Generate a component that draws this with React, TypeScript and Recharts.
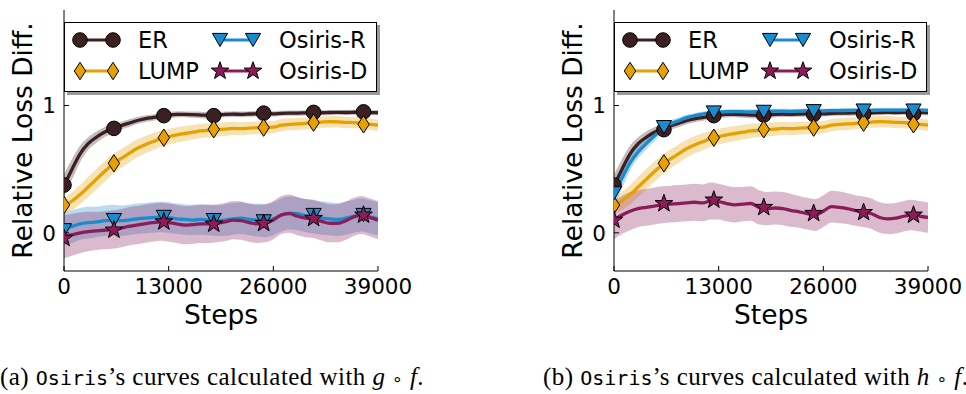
import React from 'react';
import { ComposedChart, Line, Area, XAxis, YAxis, Legend } from 'recharts';

// training steps (x) shared by every curve
const steps = [
  0, 1000, 2000, 3000, 4000, 5000, 6000, 7000, 8000, 9000,
  10000, 11000, 12000, 13000, 14000, 15000, 16000, 17000, 18000, 19000,
  20000, 21000, 22000, 23000, 24000, 25000, 26000, 27000, 28000, 29000,
  30000, 31000, 32000, 33000, 34000, 35000, 36000, 37000, 38000, 39000,
];
const xTicks = [0, 13000, 26000, 39000];
const yTicks = [0, 1];

// ER and LUMP are the same in both panels
const erVals = [
  0.37, 0.5, 0.62, 0.7, 0.75, 0.79, 0.815, 0.84, 0.86, 0.88,
  0.895, 0.905, 0.915, 0.925, 0.93, 0.93, 0.928, 0.925, 0.922, 0.925,
  0.93, 0.932, 0.93, 0.933, 0.935, 0.936, 0.934, 0.938, 0.94, 0.94,
  0.942, 0.944, 0.943, 0.945, 0.946, 0.945, 0.947, 0.948, 0.945, 0.943,
];
const erSpread = [
  0.09, 0.08, 0.065, 0.05, 0.045, 0.04, 0.035, 0.03, 0.03, 0.028,
  0.026, 0.025, 0.025, 0.024, 0.024, 0.023, 0.024, 0.025, 0.024, 0.023,
  0.022, 0.023, 0.022, 0.022, 0.021, 0.022, 0.021, 0.02, 0.021, 0.02,
  0.02, 0.021, 0.02, 0.02, 0.019, 0.02, 0.02, 0.019, 0.02, 0.02,
];
const lumpVals = [
  0.21, 0.25, 0.3, 0.36, 0.42, 0.48, 0.535, 0.58, 0.62, 0.66,
  0.69, 0.715, 0.74, 0.755, 0.77, 0.78, 0.79, 0.8, 0.805, 0.81,
  0.815, 0.82, 0.818, 0.822, 0.825, 0.828, 0.83, 0.845, 0.852, 0.855,
  0.86, 0.866, 0.87, 0.873, 0.872, 0.868, 0.865, 0.86, 0.852, 0.846,
];
const lumpSpread = [
  0.06, 0.07, 0.075, 0.08, 0.08, 0.08, 0.078, 0.075, 0.072, 0.07,
  0.068, 0.066, 0.064, 0.062, 0.06, 0.058, 0.057, 0.056, 0.055, 0.054,
  0.053, 0.052, 0.051, 0.05, 0.05, 0.049, 0.048, 0.048, 0.047, 0.047,
  0.046, 0.046, 0.045, 0.045, 0.045, 0.044, 0.044, 0.044, 0.044, 0.044,
];

// (a) g∘f
const osirisRA = [
  0.03, 0.05, 0.07, 0.08, 0.085, 0.095, 0.1, 0.095, 0.1, 0.11,
  0.115, 0.12, 0.125, 0.12, 0.11, 0.105, 0.1, 0.105, 0.1, 0.095,
  0.1, 0.11, 0.115, 0.105, 0.1, 0.095, 0.11, 0.14, 0.155, 0.15,
  0.135, 0.125, 0.115, 0.11, 0.105, 0.115, 0.13, 0.14, 0.125, 0.11,
];
const osirisRASpread = [
  0.13, 0.13, 0.125, 0.125, 0.12, 0.12, 0.12, 0.12, 0.12, 0.12,
  0.12, 0.12, 0.12, 0.12, 0.12, 0.12, 0.12, 0.12, 0.12, 0.12,
  0.125, 0.125, 0.125, 0.125, 0.13, 0.13, 0.13, 0.13, 0.13, 0.13,
  0.13, 0.13, 0.13, 0.13, 0.13, 0.13, 0.13, 0.13, 0.13, 0.13,
];
const osirisDA = [
  -0.03, -0.015, 0.0, 0.01, 0.015, 0.02, 0.025, 0.035, 0.05, 0.06,
  0.07, 0.08, 0.087, 0.08, 0.07, 0.06, 0.065, 0.07, 0.07, 0.075,
  0.085, 0.1, 0.095, 0.08, 0.07, 0.075, 0.1, 0.14, 0.15, 0.13,
  0.115, 0.11, 0.09, 0.075, 0.075, 0.095, 0.125, 0.14, 0.12, 0.1,
];
const osirisDASpread = [
  0.17, 0.165, 0.16, 0.155, 0.15, 0.15, 0.15, 0.15, 0.15, 0.15,
  0.15, 0.15, 0.15, 0.15, 0.15, 0.15, 0.15, 0.15, 0.15, 0.15,
  0.15, 0.15, 0.15, 0.15, 0.15, 0.15, 0.15, 0.15, 0.15, 0.15,
  0.15, 0.15, 0.15, 0.15, 0.15, 0.15, 0.15, 0.15, 0.15, 0.15,
];

// (b) h∘f
const osirisRB = [
  0.3, 0.43, 0.55, 0.635, 0.7, 0.76, 0.82, 0.855, 0.88, 0.905,
  0.92, 0.932, 0.942, 0.948, 0.951, 0.952, 0.951, 0.95, 0.952, 0.954,
  0.955, 0.955, 0.954, 0.956, 0.957, 0.958, 0.958, 0.96, 0.96, 0.961,
  0.962, 0.962, 0.962, 0.963, 0.963, 0.964, 0.963, 0.964, 0.963, 0.962,
];
const osirisRBSpread = [
  0.1, 0.08, 0.06, 0.05, 0.045, 0.04, 0.035, 0.03, 0.025, 0.022,
  0.02, 0.02, 0.02, 0.02, 0.02, 0.02, 0.02, 0.02, 0.02, 0.02,
  0.019, 0.019, 0.019, 0.019, 0.019, 0.018, 0.018, 0.018, 0.018, 0.018,
  0.018, 0.018, 0.018, 0.018, 0.018, 0.018, 0.018, 0.018, 0.018, 0.018,
];
const osirisDB = [
  0.1, 0.14, 0.17, 0.19, 0.2, 0.21, 0.22, 0.225, 0.23, 0.235,
  0.24, 0.235, 0.25, 0.245, 0.23, 0.22, 0.225, 0.23, 0.2, 0.19,
  0.195, 0.19, 0.175, 0.165, 0.15, 0.14, 0.17, 0.205, 0.2, 0.19,
  0.175, 0.165, 0.15, 0.12, 0.11, 0.115, 0.13, 0.14, 0.13, 0.12,
];
const osirisDBSpread = [
  0.15, 0.15, 0.15, 0.145, 0.145, 0.145, 0.145, 0.145, 0.145, 0.145,
  0.145, 0.145, 0.145, 0.14, 0.14, 0.14, 0.135, 0.135, 0.135, 0.13,
  0.13, 0.13, 0.13, 0.125, 0.125, 0.125, 0.125, 0.125, 0.125, 0.12,
  0.12, 0.12, 0.12, 0.12, 0.12, 0.12, 0.12, 0.12, 0.12, 0.12,
];

// marker positions (markevery)
const markSteps = [0, 6200, 12400, 18600, 24800, 31000, 37200];
const erMarksA = [0.375, 0.82, 0.92, 0.92, 0.94, 0.946, 0.95];
const lumpMarks = [0.218, 0.546, 0.747, 0.813, 0.826, 0.865, 0.852];
const osirisRMarksA = [0.02, 0.1, 0.125, 0.1, 0.09, 0.14, 0.14];
const osirisDMarksA = [-0.043, 0.022, 0.087, 0.069, 0.075, 0.114, 0.14];
const erMarksB = [0.375, 0.81, 0.92, 0.925, 0.93, 0.935, 0.935];
const osirisRMarksB = [0.31, 0.83, 0.945, 0.95, 0.955, 0.96, 0.96];
const osirisDMarksB = [0.1, 0.23, 0.258, 0.2, 0.153, 0.16, 0.14];

const C = { er: '#3b2023', lump: '#e6a000', osR: '#1a8bcc', osD: '#8b1c5a' };
const FONT = '"DejaVu Sans", sans-serif';

function band(v: number[], w: number[], i: number): [number, number] {
  return [v[i] - w[i], v[i] + w[i]];
}

function buildRows(r: number[], rw: number[], d: number[], dw: number[]) {
  return steps.map((s, i) => ({
    step: s,
    er: erVals[i], erBand: band(erVals, erSpread, i),
    lump: lumpVals[i], lumpBand: band(lumpVals, lumpSpread, i),
    osR: r[i], osRBand: band(r, rw, i),
    osD: d[i], osDBand: band(d, dw, i),
  }));
}

function buildMarks(er: number[], r: number[], d: number[]) {
  return markSteps.map((s, i) => ({ step: s, er: er[i], lump: lumpMarks[i], osR: r[i], osD: d[i] }));
}

const rowsA = buildRows(osirisRA, osirisRASpread, osirisDA, osirisDASpread);
const rowsB = buildRows(osirisRB, osirisRBSpread, osirisDB, osirisDBSpread);
const marksA = buildMarks(erMarksA, osirisRMarksA, osirisDMarksA);
const marksB = buildMarks(erMarksB, osirisRMarksB, osirisDMarksB);

// ---- marker glyphs ----
function starPoints(cx: number, cy: number, R: number, r: number) {
  const pts: string[] = [];
  for (let k = 0; k < 10; k++) {
    const a = -Math.PI / 2 + (k * Math.PI) / 5;
    const rad = k % 2 === 0 ? R : r;
    pts.push(`${cx + rad * Math.cos(a)},${cy + rad * Math.sin(a)}`);
  }
  return pts.join(' ');
}

type Kind = 'er' | 'lump' | 'osR' | 'osD';

function Glyph({ kind, cx, cy }: { kind: Kind; cx: number; cy: number }) {
  const common = { fill: C[kind], stroke: '#000', strokeWidth: 1 };
  if (kind === 'er') return <circle cx={cx} cy={cy} r={7.3} {...common} />;
  if (kind === 'lump')
    return <polygon points={`${cx},${cy - 8.7} ${cx + 5.7},${cy} ${cx},${cy + 8.7} ${cx - 5.7},${cy}`} {...common} />;
  if (kind === 'osR')
    return <polygon points={`${cx - 7.6},${cy - 6.6} ${cx + 7.6},${cy - 6.6} ${cx},${cy + 6.6}`} {...common} />;
  return <polygon points={starPoints(cx, cy, 9.3, 3.7)} {...common} />;
}

const dotFor = (kind: Kind) => (p: any) => {
  if (p.cx == null || p.cy == null) return <g key={p.index} />;
  return <Glyph key={p.index} kind={kind} cx={p.cx} cy={p.cy} />;
};

const legendItems: { kind: Kind; label: string }[] = [
  { kind: 'er', label: 'ER' },
  { kind: 'osR', label: 'Osiris-R' },
  { kind: 'lump', label: 'LUMP' },
  { kind: 'osD', label: 'Osiris-D' },
];

function LegendBox() {
  return (
    <div
      style={{
        position: 'relative', width: 313, height: 70, boxSizing: 'border-box',
        border: '1px solid #000', background: '#fff', boxShadow: '3px 3px 0 #9a9a9a',
        fontFamily: FONT, fontSize: 22.5, color: '#000',
      }}
    >
      {legendItems.map((it, i) => {
        const col = i % 2;
        const row = Math.floor(i / 2);
        const hx = col === 0 ? 6 : 146;
        const tx = col === 0 ? 73 : 214;
        const cy = row === 0 ? 17 : 48;
        return (
          <React.Fragment key={it.kind}>
            <svg width={54} height={24} style={{ position: 'absolute', left: hx, top: cy - 12 }}>
              <line x1={9} y1={12} x2={42} y2={12} stroke={C[it.kind]} strokeWidth={3} />
              <Glyph kind={it.kind} cx={9} cy={12} />
              <Glyph kind={it.kind} cx={42} cy={12} />
            </svg>
            <span style={{ position: 'absolute', left: tx, top: cy - 14, lineHeight: '28px', whiteSpace: 'nowrap' }}>
              {it.label}
            </span>
          </React.Fragment>
        );
      })}
    </div>
  );
}

// tick labels drawn as plain svg text so the font is exactly DejaVu Sans
const XTick = (p: any) => (
  <text x={p.x} y={p.y} dy="0.72em" textAnchor="middle" style={{ fontFamily: 'DejaVu Sans', fontSize: 21.5 }} fill="#000">
    {p.payload.value}
  </text>
);
const YTick = (p: any) => (
  <text x={p.x} y={p.y} dy="0.36em" textAnchor="end" style={{ fontFamily: 'DejaVu Sans', fontSize: 21.5 }} fill="#000">
    {p.payload.value}
  </text>
);

const ax = { xAxisId: 'b', yAxisId: 'l' };

function Panel({ rows, marks, left }: { rows: any[]; marks: any[]; left: number }) {
  const kinds: Kind[] = ['er', 'lump', 'osR', 'osD'];
  return (
    <div style={{ position: 'absolute', left, top: 0 }}>
      <ComposedChart width={483} height={335} data={rows} margin={{ top: 10, right: 105, bottom: 34, left: 0 }}>
        <XAxis
          xAxisId="b" dataKey="step" type="number" domain={[0, 39000]} ticks={xTicks} interval={0}
          allowDataOverflow height={30} tickSize={-5} tickMargin={13}
          stroke="#000" tick={<XTick />}
          label={{ value: 'Steps', position: 'bottom', offset: 4, style: { fontSize: 26.5, fill: '#000', fontFamily: FONT } }}
        />
        <XAxis
          xAxisId="t" orientation="top" dataKey="step" type="number" domain={[0, 39000]} ticks={xTicks} interval={0}
          height={0} tickSize={-5} tick={false} stroke="#000"
        />
        <YAxis
          yAxisId="l" type="number" domain={[-0.3, 1.75]} ticks={yTicks} interval={0} allowDataOverflow
          width={64} tickSize={-5} tickMargin={13} stroke="#000" tick={<YTick />}
          label={{
            value: 'Relative Loss Diff.', angle: -90, position: 'insideLeft', offset: 23,
            style: { textAnchor: 'middle', fontSize: 26.5, fill: '#000', fontFamily: FONT },
          }}
        />
        <YAxis
          yAxisId="r" orientation="right" type="number" domain={[-0.3, 1.75]} ticks={yTicks} interval={0}
          width={0} tickSize={-5} tick={false} stroke="#000"
        />
        <Legend
          layout="horizontal" verticalAlign="middle" align="center"
          wrapperStyle={{ left: 64, top: 22, width: 313, height: 70 }}
          content={() => <LegendBox />}
        />
        {kinds.map((k) => (
          <Area
            key={`${k}-band`} {...ax} type="monotone" dataKey={`${k}Band`} stroke="none"
            fill={C[k]} fillOpacity={0.3} isAnimationActive={false} activeDot={false}
          />
        ))}
        {kinds.map((k) => (
          <Line
            key={`${k}-line`} {...ax} type="monotone" dataKey={k} stroke={C[k]} strokeWidth={3.3}
            dot={false} activeDot={false} isAnimationActive={false}
          />
        ))}
        {kinds.map((k) => (
          <Line
            key={`${k}-marks`} {...ax} data={marks} dataKey={k} stroke="none" strokeWidth={0}
            dot={dotFor(k)} activeDot={false} isAnimationActive={false}
          />
        ))}
      </ComposedChart>
    </div>
  );
}

const serif = '"Liberation Serif", "DejaVu Serif", serif';
const mono = '"DejaVu Sans Mono", monospace';

function Caption({ tag, fn, left }: { tag: string; fn: string; left: number }) {
  return (
    <div
      style={{
        position: 'absolute', left, top: 363, fontFamily: serif, fontSize: 25, letterSpacing: 0.45,
        whiteSpace: 'nowrap', color: '#000',
      }}
    >
      ({tag}) <span style={{ fontFamily: mono, fontSize: 20, letterSpacing: 0 }}>Osiris</span>’s curves calculated with{' '}
      <i>{fn}</i> <span style={{ fontFamily: FONT, fontSize: 17 }}>∘</span> <i>f</i>.
    </div>
  );
}

export default function App() {
  return (
    <div style={{ position: 'absolute', left: 0, top: 0, width: 966, height: 394, background: '#fff', overflow: 'hidden', fontFamily: FONT }}>
      <Panel rows={rowsA} marks={marksA} left={0} />
      <Panel rows={rowsB} marks={marksB} left={550} />
      <Caption tag="a" fn="g" left={0} />
      <Caption tag="b" fn="h" left={543} />
    </div>
  );
}
